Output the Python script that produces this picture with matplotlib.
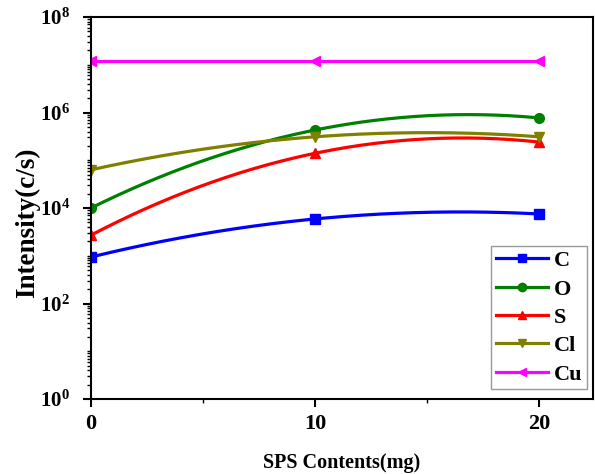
import numpy as np
import matplotlib
matplotlib.use("Agg")
import matplotlib.pyplot as plt
from matplotlib.ticker import LogLocator, FixedLocator, NullFormatter

x = [0, 10, 20]
C = [940, 5900, 7500]
O = [1.0e4, 4.3e5, 7.7e5]
S = [2700, 1.4e5, 2.4e5]
Cl = [6.3e4, 3.1e5, 3.1e5]
Cu = [1.2e7, 1.2e7, 1.2e7]
ytick_vals = [1, 1e2, 1e4, 1e6, 1e8]
ytick_labels = [r'$10^{0}$', r'$10^{2}$', r'$10^{4}$', r'$10^{6}$', r'$10^{8}$']

series = [("C", C, "#0000ff", "s"),
          ("O", O, "#008000", "o"),
          ("S", S, "#ff0000", "^"),
          ("Cl", Cl, "#808000", "v"),
          ("Cu", Cu, "#ff00ff", "<")]

plt.rcParams['font.family'] = ['Liberation Serif', 'DejaVu Serif']
plt.rcParams['font.weight'] = 'bold'
plt.rcParams['mathtext.fontset'] = 'custom'
plt.rcParams['mathtext.rm'] = 'Liberation Serif:bold'
plt.rcParams['mathtext.it'] = 'Liberation Serif:bold'
plt.rcParams['mathtext.bf'] = 'Liberation Serif:bold'

fig = plt.figure(figsize=(5.95, 4.74), dpi=100)
ax = fig.add_axes([91/595, 1-399/474, (593-91)/595, (399-17)/474])

xs = np.linspace(0, 20, 200)
lw = 2.3
for name, vals, col, mk in series:
    coef = np.polyfit(x, np.log10(vals), 2)
    ys = 10 ** np.polyval(coef, xs)
    ax.plot(xs, ys, color=col, lw=lw)
    ax.plot(x, vals, linestyle='none', marker=mk, color=col, ms=7)
    ax.plot([], [], color=col, lw=lw, marker=mk, ms=6, label=name)

ax.set_yscale('log')
ax.set_ylim(1, 1e8)
ax.set_xlim(0, 22.4)
ax.yaxis.set_major_locator(FixedLocator(ytick_vals))
ax.yaxis.set_minor_locator(LogLocator(base=10, subs=np.arange(1, 10), numticks=30))
ax.yaxis.set_minor_formatter(NullFormatter())
ax.set_yticklabels(ytick_labels)
ax.set_xticks([0, 10, 20])
ax.set_xticks([5, 15], minor=True)
ax.tick_params(axis='y', which='major', direction='out', length=6, width=1.5,
               labelsize=15, pad=9)
ax.tick_params(axis='x', which='major', direction='out', length=6, width=1.5,
               labelsize=16, pad=5)
ax.tick_params(axis='both', which='minor', direction='out', length=3, width=1.0)
for lab in ax.get_xticklabels():
    lab.set_fontweight('bold')
for sp in ax.spines.values():
    sp.set_linewidth(1.5)

ax.set_xlabel('SPS Contents(mg)', fontsize=14.5, fontweight='bold')
ax.xaxis.set_label_coords((342-91)/502, (399-463)/382)
ax.xaxis.label.set_va('center')
ax.set_ylabel('Intensity(c/s)', fontsize=19.5, fontweight='bold')
ax.yaxis.set_label_coords((28-91)/502, (399-223)/382)
ax.yaxis.label.set_va('center')
ax.yaxis.label.set_ha('center')

leg = ax.legend(loc='lower right', bbox_to_anchor=((587-91)/502, (399-389)/382),
                fontsize=16, frameon=True, fancybox=False, edgecolor='gray',
                handlelength=2.35, borderaxespad=0.0, labelspacing=0.35,
                handletextpad=0.27, borderpad=0.2)
leg.get_frame().set_linewidth(1.0)
for t in leg.get_texts():
    t.set_fontweight('bold')

fig.savefig('out.png', dpi=100)
